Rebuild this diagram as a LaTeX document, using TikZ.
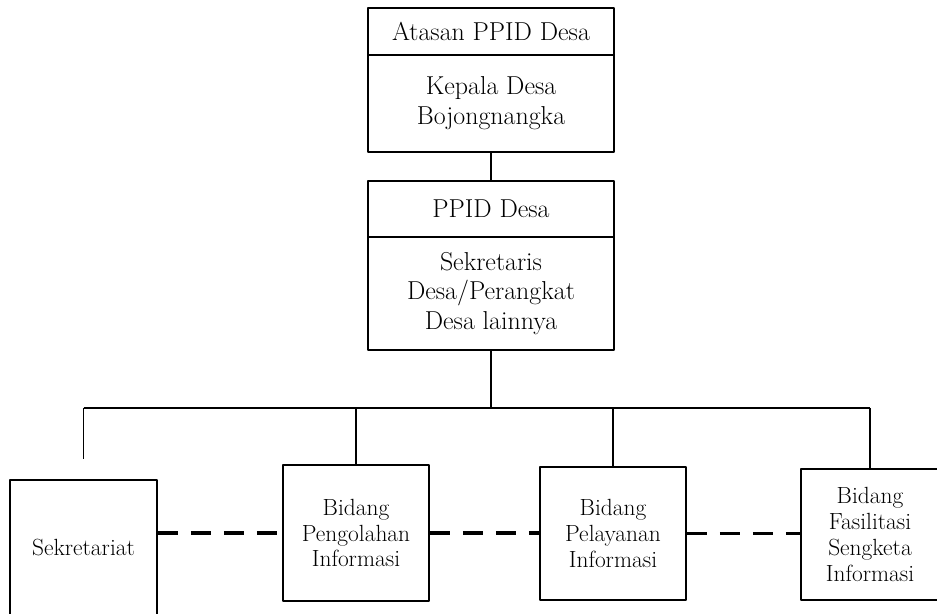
\documentclass[tikz,border=0pt]{standalone}
\usepackage{fontspec}
\usetikzlibrary{positioning}
\begin{document}
\begin{tikzpicture}[>=latex,line join=bevel,
  headbox/.style={draw,line width=1.8bp,minimum width=246bp,inner sep=0pt,font=\fontsize{26}{30}\selectfont,align=center},
  unitbox/.style={draw,line width=1.8bp,inner sep=0pt,font=\fontsize{23.5}{26}\selectfont,align=center},
  link/.style={black,line width=1.8bp},
  peer/.style={black,line width=3.5bp,dash pattern=on 20bp off 13bp},
  ]
%%
\useasboundingbox (0bp,0bp) rectangle (937bp,614bp);
\node (node_atasan) at (491.0bp,582.5bp) [headbox,minimum height=47bp] {Atasan PPID Desa};
  \node (node_kades) at (491.0bp,510.5bp) [headbox,minimum height=97bp] {Kepala Desa\\Bojongnangka};
  \node (node_ppid) at (491.0bp,405.0bp) [headbox,minimum height=56bp] {PPID Desa};
  \node (node_sekdes) at (491.0bp,320.5bp) [headbox,minimum height=113bp] {Sekretaris\\Desa/Perangkat\\Desa lainnya};
  \node (node_sek) at (83.5bp,66.0bp) [unitbox,minimum width=147bp,minimum height=136bp] {Sekretariat};
  \node (node_olah) at (356.0bp,81.0bp) [unitbox,minimum width=146bp,minimum height=136bp] {Bidang\\Pengolahan\\Informasi};
  \node (node_layan) at (613.0bp,80.5bp) [unitbox,minimum width=146bp,minimum height=133bp] {Bidang\\Pelayanan\\Informasi};
  \node (node_sengketa) at (870.0bp,79.5bp) [unitbox,minimum width=138bp,minimum height=131bp] {Bidang\\Fasilitasi\\Sengketa\\Informasi};
  \coordinate (bus) at (491.0bp,206.0bp);
  \draw [link] (node_kades) -- (node_ppid);
  \draw [link] (node_sekdes) -- (bus);
  \draw [link] (node_sek.north |- bus) -- (node_sengketa.north |- bus);
  \draw [link,shorten >=20bp] (node_sek.north |- bus) -- (node_sek);
  \draw [link] (node_olah.north |- bus) -- (node_olah);
  \draw [link] (node_layan.north |- bus) -- (node_layan);
  \draw [link] (node_sengketa.north |- bus) -- (node_sengketa);
  \draw [peer] (node_sek.east |- node_olah) -- (node_olah);
  \draw [peer] (node_olah) -- (node_layan.west |- node_olah);
  \draw [peer] (node_layan) -- (node_sengketa.west |- node_layan);
%
\end{tikzpicture}
\end{document}
